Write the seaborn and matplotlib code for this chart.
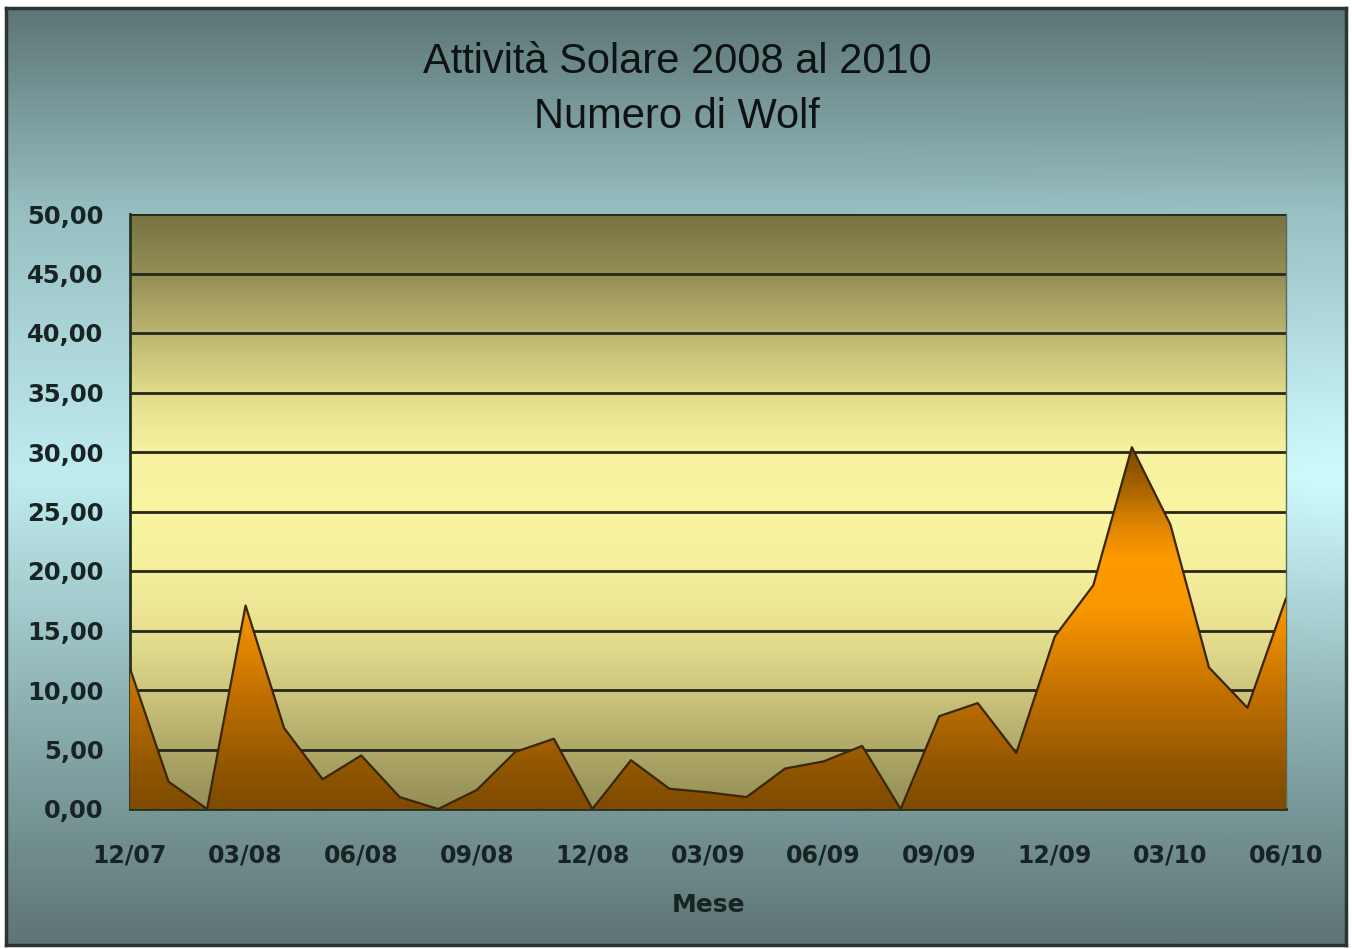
import numpy as np
import matplotlib
matplotlib.use("Agg")
import matplotlib.pyplot as plt
from matplotlib.colors import LinearSegmentedColormap
import seaborn as sns

# ---------------- data ----------------
mesi = ["12/07", "01/08", "02/08", "03/08", "04/08", "05/08", "06/08", "07/08",
        "08/08", "09/08", "10/08", "11/08", "12/08", "01/09", "02/09", "03/09",
        "04/09", "05/09", "06/09", "07/09", "08/09", "09/09", "10/09", "11/09",
        "12/09", "01/10", "02/10", "03/10", "04/10", "05/10", "06/10"]
wolf = [11.8, 2.3, 0.0, 17.1, 6.8, 2.5, 4.5, 1.0,
        0.0, 1.6, 4.8, 5.9, 0.0, 4.1, 1.7, 1.4,
        1.0, 3.4, 4.0, 5.3, 0.0, 7.8, 8.9, 4.7,
        14.5, 18.8, 30.4, 23.9, 11.9, 8.5, 17.7]
y_ticks = [0, 5, 10, 15, 20, 25, 30, 35, 40, 45, 50]
titolo1 = "Attività Solare 2008 al 2010"
titolo2 = "Numero di Wolf"
etichetta_x = "Mese"

# ---------------- style ----------------
sns.set_style("white")
plt.rcParams['font.family'] = ['DejaVu Sans']

W, H = 1352, 949
fig = plt.figure(figsize=(W / 100, H / 100), dpi=100)
fig.patch.set_facecolor("white")

# outer chart area background (vertical gradient)
bg = fig.add_axes([6 / W, 4 / H, 1340 / W, 937 / H])
bg_cmap = LinearSegmentedColormap.from_list(
    "bg", [(0.0, "#5e7575"), (0.22, "#86a9aa"), (0.5, "#c0ecf0"),
           (0.78, "#98c0c3"), (1.0, "#5d7676")])
vy = np.linspace(1, 0, 400)[:, None]
hx = np.linspace(0, 1, 200)[None, :]
rgb = bg_cmap(vy * np.ones_like(hx))[:, :, :3]
boost = 0.06 * np.exp(-((vy - 0.5) / 0.2) ** 2) * np.clip((hx - 0.6) / 0.4, 0, 1)
rgb = np.clip(rgb + boost[..., None], 0, 1)
bg.imshow(rgb, extent=[0, 1, 0, 1], aspect="auto", interpolation="bicubic")
bg.set_xlim(0, 1)
bg.set_ylim(0, 1)
bg.set_xticks([])
bg.set_yticks([])
for s in bg.spines.values():
    s.set_color("#2a3434")
    s.set_linewidth(2.5)

# plot area
ax = fig.add_axes([130 / W, 140 / H, 1156 / W, 595 / H])
ax.set_zorder(2)
ax.patch.set_alpha(0)

plot_cmap = LinearSegmentedColormap.from_list(
    "pl", [(0.0, "#948e56"), (0.1, "#b0a968"), (0.2, "#cfc77e"), (0.3, "#e8e090"),
           (0.4, "#f5ef9c"), (0.5, "#faf5a2"), (0.6, "#f8f2a0"), (0.7, "#e2db8b"),
           (0.8, "#bdb670"), (0.9, "#958f55"), (1.0, "#787443")])
grad = np.linspace(0, 1, 300)[:, None]
ax.imshow(grad, extent=[0, len(mesi) - 1, 0, 50], aspect="auto", origin="lower",
          cmap=plot_cmap, zorder=0, interpolation="bicubic")

x = np.arange(len(mesi))
ax.yaxis.grid(True, color="#26261a", linewidth=2.0, zorder=1)
ax.set_axisbelow(True)

# area with vertical gradient fill
area_cmap = LinearSegmentedColormap.from_list(
    "area", [(0.0, "#7f4b00"), (0.06, "#8f5500"), (0.2, "#c47200"),
             (0.34, "#fa9800"), (0.42, "#ff9a00"), (0.48, "#dc8400"),
             (0.54, "#a86400"), (0.62, "#704200"), (1.0, "#603800")])
poly = ax.fill_between(x, 0, wolf, facecolor="none", edgecolor="none", zorder=3)
im = ax.imshow(grad, extent=[0, len(mesi) - 1, 0, 50], aspect="auto", origin="lower",
               cmap=area_cmap, zorder=3, interpolation="bicubic")
im.set_clip_path(poly.get_paths()[0], ax.transData)

sns.lineplot(x=x, y=wolf, ax=ax, color="#3a2608", linewidth=1.6, zorder=4)

ax.set_xlim(0, len(mesi) - 1)
ax.set_ylim(0, 50)
ax.set_xticks(x)
ax.set_xticklabels([m if i % 3 == 0 else "" for i, m in enumerate(mesi)])
ax.set_yticks(y_ticks)
ax.set_yticklabels([f"{v:.2f}".replace(".", ",") for v in y_ticks])
ax.set_xlabel("")
ax.set_ylabel("")

ax.tick_params(axis="both", direction="out", length=8, width=1.5, color="#24302a",
               labelcolor="#182424")
ax.tick_params(axis="y", pad=11, labelsize=17.5)
ax.tick_params(axis="x", pad=17, labelsize=17)
for lab in ax.get_xticklabels() + ax.get_yticklabels():
    lab.set_fontweight("bold")

for side in ["left", "bottom"]:
    ax.spines[side].set_color("#26321f")
    ax.spines[side].set_linewidth(2.0)
ax.spines["top"].set_visible(False)
ax.spines["right"].set_color("#5a6a5a")
ax.spines["right"].set_linewidth(1.0)

# titles
fig.text(677 / W, 1 - 62 / H, titolo1, ha="center", va="center", fontsize=30,
         color="#0e1212", family=["Liberation Sans", "DejaVu Sans"])
fig.text(677 / W, 1 - 117 / H, titolo2, ha="center", va="center", fontsize=30,
         color="#0e1212", family=["Liberation Sans", "DejaVu Sans"])
fig.text(708 / W, 1 - 905 / H, etichetta_x, ha="center", va="center", fontsize=18,
         fontweight="bold", color="#182424")

fig.savefig("out.png", dpi=100, facecolor=fig.get_facecolor())
